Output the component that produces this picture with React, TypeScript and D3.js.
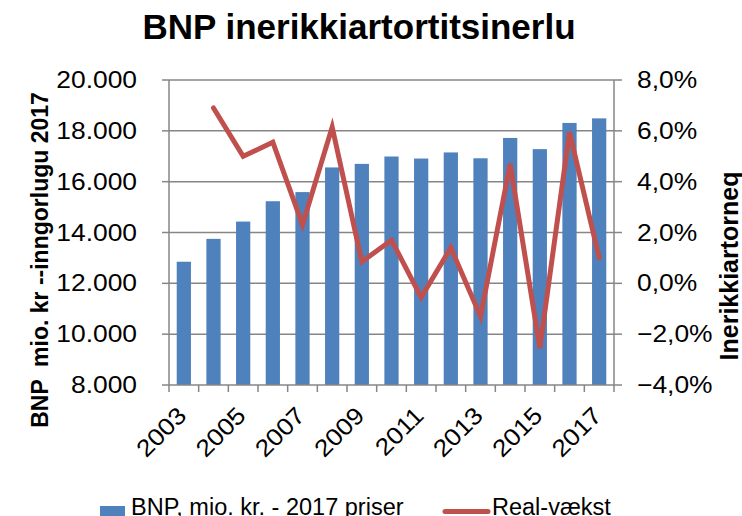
import React, { useEffect, useRef } from 'react';
import * as d3 from 'd3';

// BNP (mio. kr, 2017 priser) og real-vækst
const years = [2003, 2004, 2005, 2006, 2007, 2008, 2009, 2010, 2011, 2012, 2013, 2014, 2015, 2016, 2017];
const bnp = [12850, 13750, 14430, 15230, 15590, 16560, 16700, 16990, 16910, 17150, 16920, 17720, 17280, 18310, 18490];
const growthYears = [2004, 2005, 2006, 2007, 2008, 2009, 2010, 2011, 2012, 2013, 2014, 2015, 2016, 2017];
const growth = [6.9, 5.0, 5.55, 2.3, 6.15, 0.85, 1.7, -0.55, 1.4, -1.3, 4.7, -2.55, 5.95, 1.0];
const leftTicks = [8000, 10000, 12000, 14000, 16000, 18000, 20000];
const rightTicks = [-4, -2, 0, 2, 4, 6, 8];
const labelYears = [2003, 2005, 2007, 2009, 2011, 2013, 2015, 2017];

const FONT = '"Liberation Sans", Arial, sans-serif';
const SX = 1.1; // tick labels look a bit wider than plain Arial

function App() {
  const ref = useRef<SVGSVGElement>(null);

  useEffect(() => {
    const svg = d3.select(ref.current);
    svg.selectAll('*').remove();

    const left = 169, right = 614, top = 80, bottom = 385;
    const grid = '#868686';

    const x = d3.scaleBand<number>().domain(years).range([left, right]).paddingInner(0.52).paddingOuter(0.26);
    const xc = (yr: number) => (x(yr) as number) + x.bandwidth() / 2;
    const step = x.step();
    const yL = d3.scaleLinear().domain([8000, 20000]).range([bottom, top]);
    const yR = d3.scaleLinear().domain([-4, 8]).range([bottom, top]);
    const nf = d3.formatLocale({ decimal: ',', thousands: '.', grouping: [3], currency: ['', ''] });
    const fmtL = nf.format(',.0f');
    const fmtR = (v: number) => nf.format('.1f')(v) + '%';

    svg.append('text')
      .attr('x', 359).attr('y', 39)
      .attr('text-anchor', 'middle')
      .attr('font-family', FONT).attr('font-weight', 'bold').attr('font-size', 35)
      .text('BNP inerikkiartortitsinerlu');

    // gridlines
    svg.append('g').selectAll('line').data(leftTicks.slice(1)).enter().append('line')
      .attr('x1', left).attr('x2', right)
      .attr('y1', d => yL(d)).attr('y2', d => yL(d))
      .attr('stroke', grid).attr('stroke-width', 1.5);

    // bars
    svg.append('g').selectAll('rect').data(years).enter().append('rect')
      .attr('x', d => x(d) as number)
      .attr('width', x.bandwidth())
      .attr('y', (d, i) => yL(bnp[i]))
      .attr('height', (d, i) => bottom - yL(bnp[i]))
      .attr('fill', '#4F81BD');

    // axes lines
    const ax = svg.append('g').attr('stroke', grid).attr('stroke-width', 1.5);
    ax.append('line').attr('x1', left).attr('x2', left).attr('y1', top).attr('y2', bottom);
    ax.append('line').attr('x1', right).attr('x2', right).attr('y1', top).attr('y2', bottom);
    ax.append('line').attr('x1', left).attr('x2', right).attr('y1', bottom).attr('y2', bottom);
    ax.selectAll('.tl').data(leftTicks).enter().append('line')
      .attr('x1', left - 7).attr('x2', left).attr('y1', d => yL(d)).attr('y2', d => yL(d));
    ax.selectAll('.tr').data(rightTicks).enter().append('line')
      .attr('x1', right).attr('x2', right + 8).attr('y1', d => yR(d)).attr('y2', d => yR(d));
    ax.selectAll('.tb').data(d3.range(years.length + 1)).enter().append('line')
      .attr('x1', d => left + d * step).attr('x2', d => left + d * step)
      .attr('y1', bottom).attr('y2', bottom + 7);

    // tick labels
    svg.append('g').selectAll('text').data(leftTicks).enter().append('text')
      .attr('transform', d => `translate(137,${yL(d) + 8}) scale(${SX},1)`)
      .attr('text-anchor', 'end')
      .attr('font-family', FONT).attr('font-size', 24)
      .text(d => fmtL(d));
    svg.append('g').selectAll('text').data(rightTicks).enter().append('text')
      .attr('transform', d => `translate(637,${yR(d) + 8}) scale(${SX},1)`)
      .attr('text-anchor', 'start')
      .attr('font-family', FONT).attr('font-size', 24)
      .text(d => fmtR(d));
    svg.append('g').selectAll('text').data(labelYears).enter().append('text')
      .attr('transform', d => `translate(${xc(d) + 4},${bottom + 32}) rotate(-45) scale(${SX},1)`)
      .attr('text-anchor', 'end')
      .attr('font-family', FONT).attr('font-size', 24)
      .text(d => String(d));

    // axis titles
    svg.append('text')
      .attr('transform', 'translate(48,260) rotate(-90)')
      .attr('text-anchor', 'middle')
      .attr('font-family', FONT).attr('font-weight', 'bold').attr('font-size', 23)
      .attr('xml:space', 'preserve')
      .text('BNP  mio. kr --inngorlugu 2017');
    svg.append('text')
      .attr('transform', 'translate(738,266) rotate(-90)')
      .attr('text-anchor', 'middle')
      .attr('font-family', FONT).attr('font-weight', 'bold').attr('font-size', 25)
      .text('Inerikkiartorneq');

    // growth line
    const line = d3.line<number>()
      .x((d, i) => xc(growthYears[i]))
      .y(d => yR(d));
    svg.append('path')
      .datum(growth)
      .attr('d', line)
      .attr('fill', 'none')
      .attr('stroke', '#C0504D')
      .attr('stroke-width', 5)
      .attr('stroke-linejoin', 'miter')
      .attr('stroke-linecap', 'round');

    // legend
    const lg = svg.append('g');
    lg.append('rect').attr('x', 100).attr('y', 506).attr('width', 25).attr('height', 12).attr('fill', '#4F81BD');
    lg.append('text').attr('x', 131).attr('y', 515)
      .attr('font-family', FONT).attr('font-size', 23.5)
      .text('BNP, mio. kr. - 2017 priser');
    lg.append('line').attr('x1', 445).attr('x2', 488).attr('y1', 511.5).attr('y2', 511.5)
      .attr('stroke', '#C0504D').attr('stroke-width', 5).attr('stroke-linecap', 'round');
    lg.append('text').attr('x', 492).attr('y', 515)
      .attr('font-family', FONT).attr('font-size', 23.5)
      .text('Real-vækst');
  }, []);

  return (
    <svg ref={ref} width={742} height={516} style={{ position: 'absolute', left: 0, top: 0, background: '#fff' }} />
  );
}

export default App;
